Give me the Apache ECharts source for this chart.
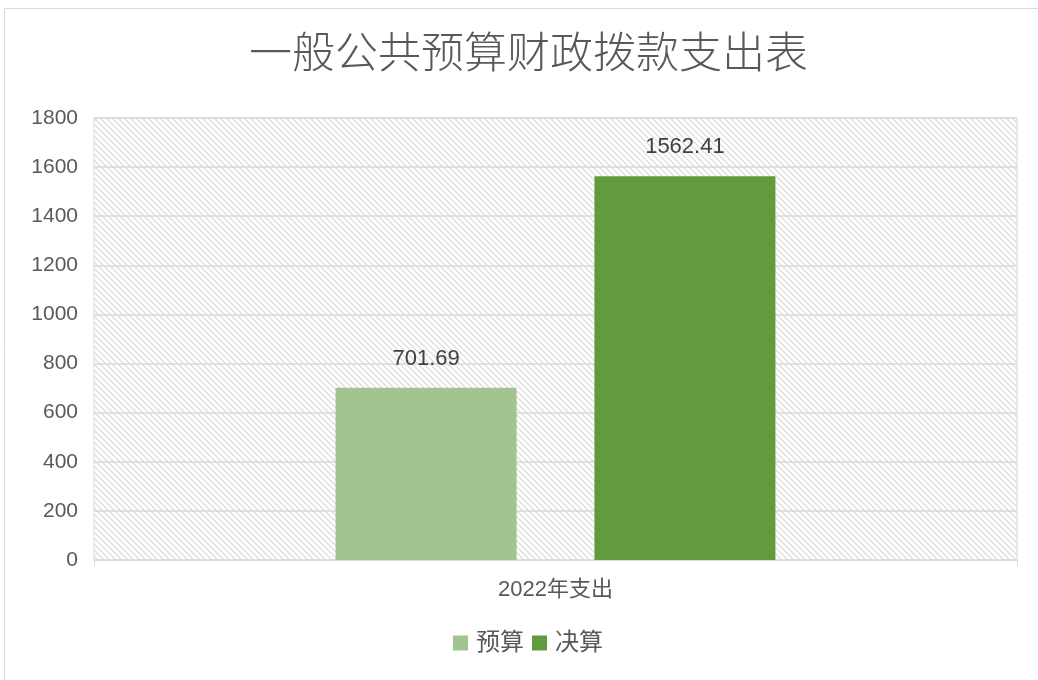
<!DOCTYPE html>
<html>
<head>
<meta charset="utf-8">
<script src="https://cdn.jsdelivr.net/npm/echarts@6/dist/echarts.min.js"></script>
<style>
html,body{margin:0;padding:0;background:#fff;}
#chart{width:1038px;height:680px;}
</style>
</head>
<body>
<div id="chart"></div>
<script>
var categories = ['2022年支出'];
var seriesNames = ['预算', '决算'];
var budget = [701.69];
var finalAcc = [1562.41];
var yTicks = [0, 200, 400, 600, 800, 1000, 1200, 1400, 1600, 1800];

// 斜线底纹
function hatch(){
	var c = document.createElement('canvas');
	c.width = 6; c.height = 6;
	var ctx = c.getContext('2d');
	ctx.fillStyle = '#ffffff';
	ctx.fillRect(0, 0, 6, 6);
	ctx.strokeStyle = '#dedede';
	ctx.lineWidth = 1.3;
	ctx.beginPath();
	ctx.moveTo(-1, -1); ctx.lineTo(7, 7);
	ctx.moveTo(-1, 5); ctx.lineTo(1, 7);
	ctx.moveTo(5, -1); ctx.lineTo(7, 1);
	ctx.stroke();
	return c;
}

var font = "'Liberation Sans', 'Noto Sans CJK SC', sans-serif";
var chart = echarts.init(document.getElementById('chart'));
var option = {
	animation: false,
	title: {
		text: '一般公共预算财政拨款支出表',
		left: 244,
		top: 25,
		textStyle: { fontSize: 43, fontWeight: 300, color: '#595959', fontFamily: "'Noto Sans CJK SC', sans-serif" }
	},
	graphic: [{
		type: 'rect',
		shape: { x: 4.5, y: 8.5, width: 1040, height: 700 },
		style: { fill: 'none', stroke: '#d9d9d9', lineWidth: 1 },
		silent: true
	}],
	legend: {
		data: seriesNames,
		bottom: 20,
		left: 448,
		icon: 'rect',
		itemWidth: 15,
		itemHeight: 15,
		itemGap: 8,
		textStyle: { fontSize: 24, color: '#595959', fontFamily: font, padding: [0, 0, 0, 3] }
	},
	grid: {
		left: 94,
		right: 21,
		top: 118,
		bottom: 120,
		show: true,
		borderWidth: 1,
		borderColor: '#d9d9d9',
		backgroundColor: { image: hatch(), repeat: 'repeat' }
	},
	xAxis: {
		type: 'category',
		data: categories,
		axisLine: { lineStyle: { color: '#d9d9d9' } },
		axisTick: { show: true, alignWithLabel: false, length: 6, lineStyle: { color: '#d9d9d9' } },
		axisLabel: { fontSize: 22, color: '#595959', margin: 19, fontFamily: font }
	},
	yAxis: {
		type: 'value',
		min: yTicks[0],
		max: yTicks[yTicks.length - 1],
		interval: 200,
		axisLine: { show: false },
		axisTick: { show: false },
		splitLine: { lineStyle: { color: '#d9d9d9', width: 1.5 } },
		axisLabel: { fontSize: 21, color: '#595959', margin: 16, fontFamily: font, formatter: function(v){ return String(v); } }
	},
	series: [{
		name: seriesNames[0],
		type: 'bar',
		data: budget,
		barWidth: 181,
		barGap: '43%',
		itemStyle: { color: '#a1c490' },
		label: { show: true, position: 'top', distance: 18, fontSize: 22, color: '#404040', fontFamily: font }
	}, {
		name: seriesNames[1],
		type: 'bar',
		data: finalAcc,
		barWidth: 181,
		barGap: '43%',
		itemStyle: { color: '#629b3d' },
		label: { show: true, position: 'top', distance: 18, fontSize: 22, color: '#404040', fontFamily: font }
	}]
};
chart.setOption(option);
</script>
</body>
</html>
